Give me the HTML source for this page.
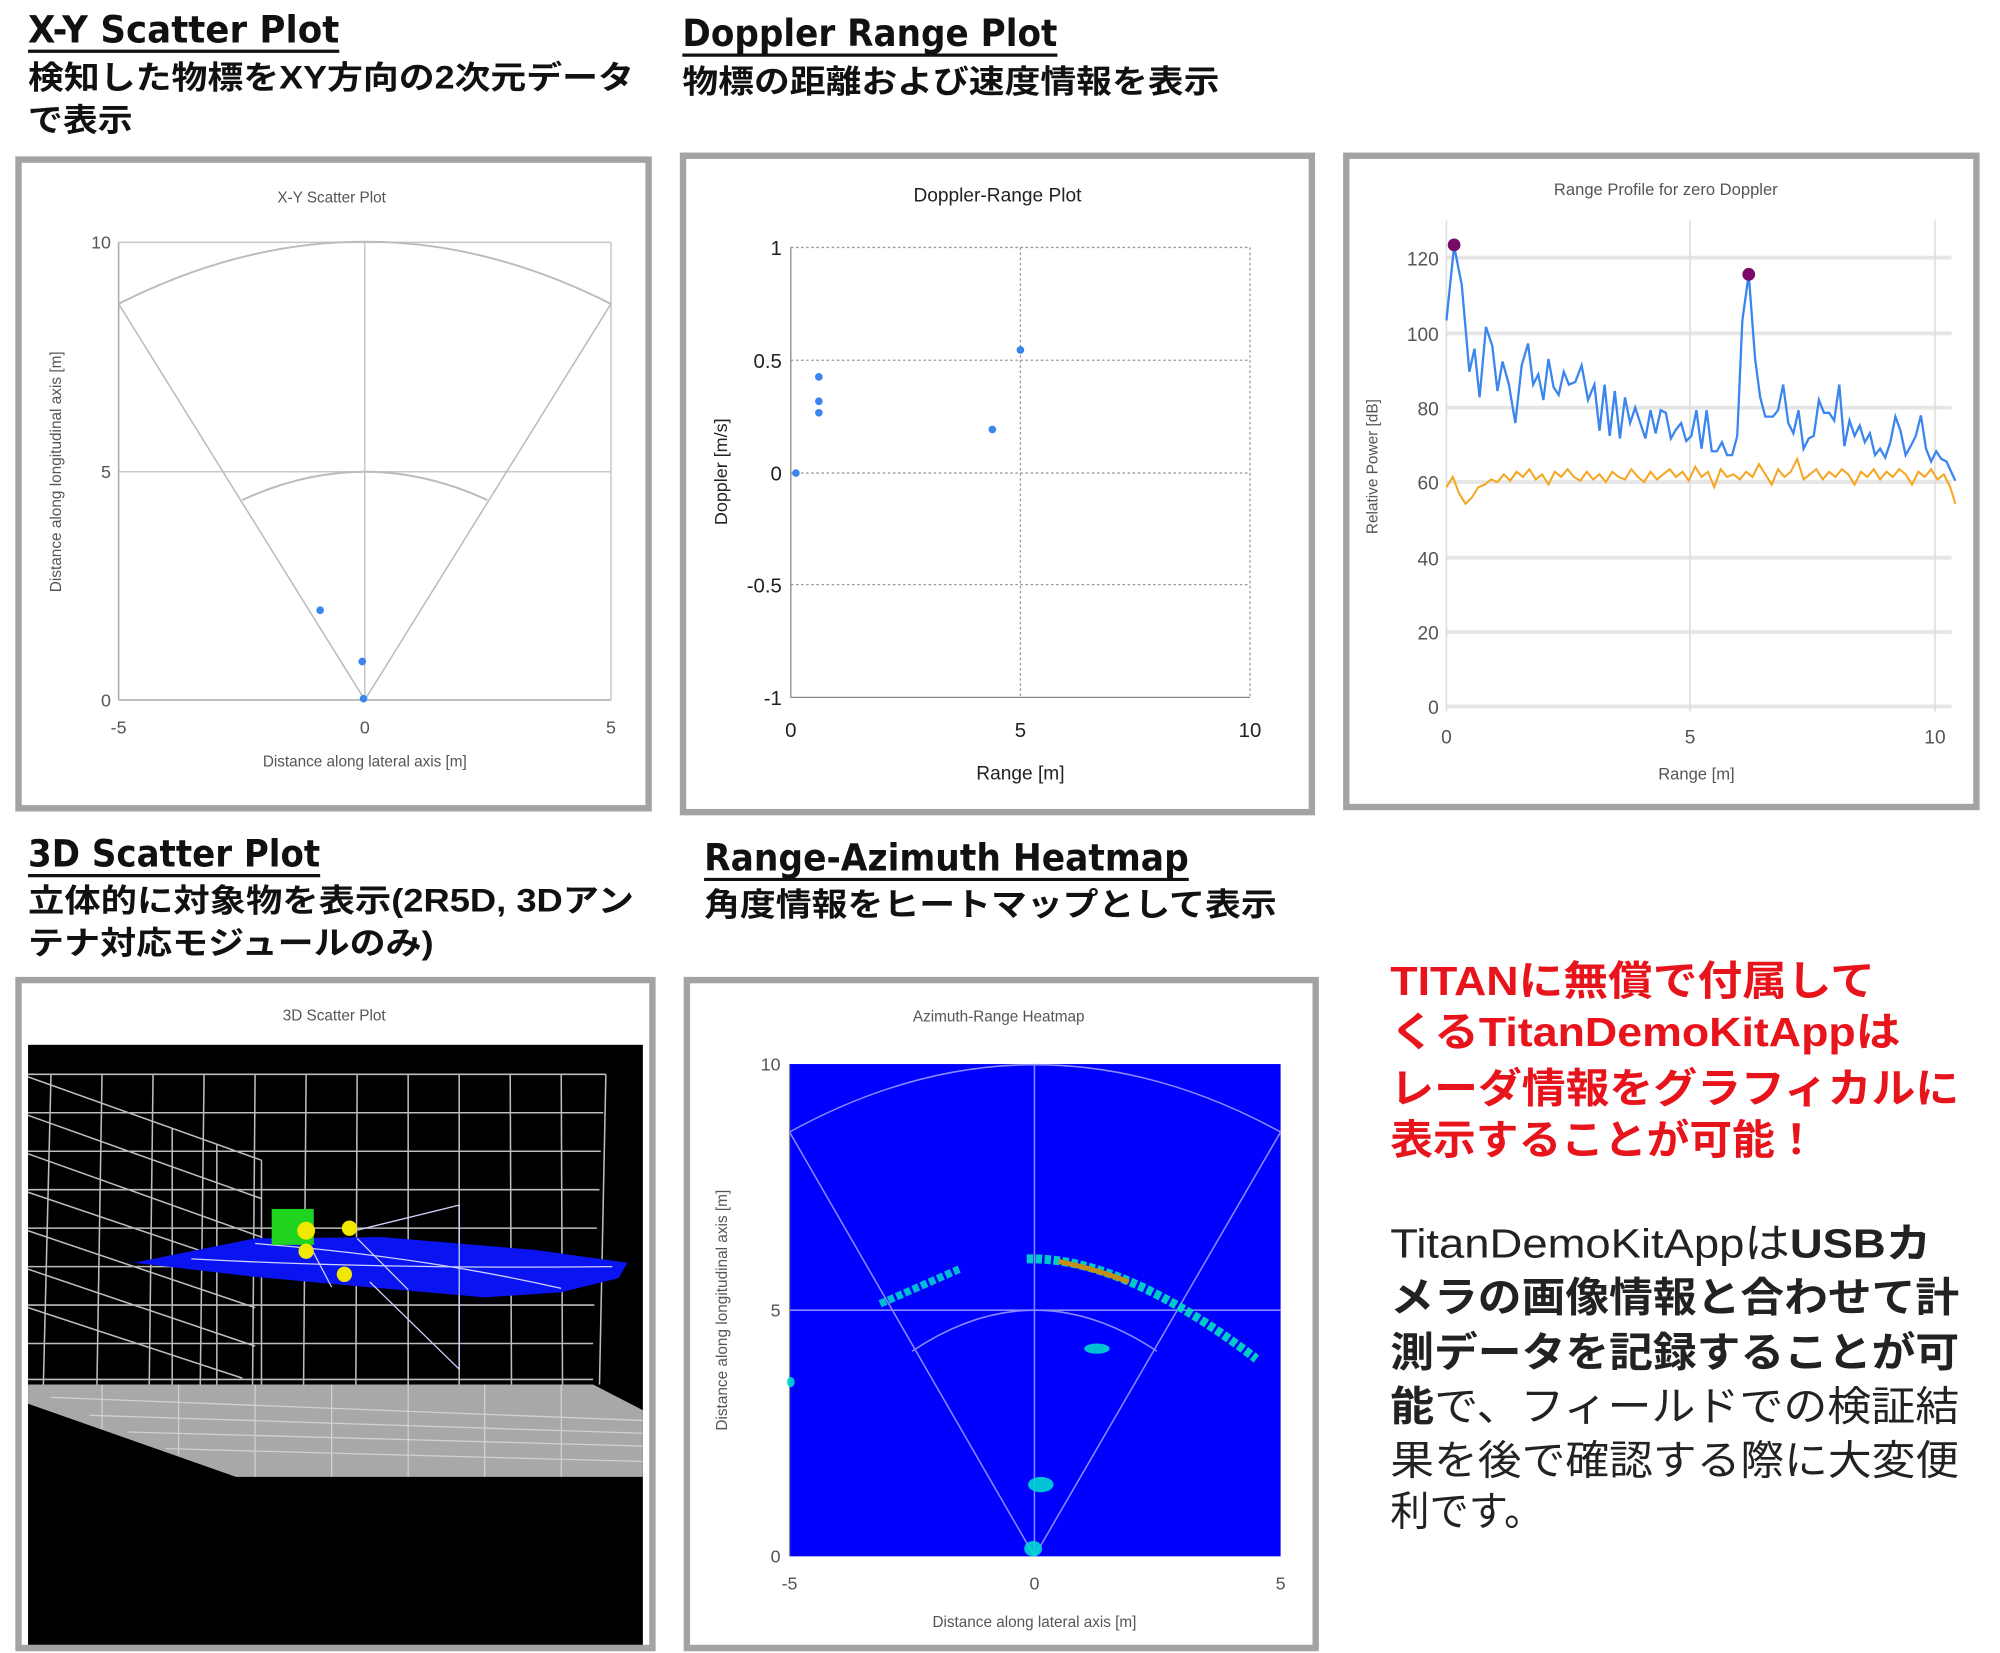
<!DOCTYPE html>
<html><head><meta charset="utf-8">
<style>
html,body{margin:0;padding:0;background:#fff;}
svg{display:block;}
.t{font-family:"Liberation Sans","Noto Sans CJK JP",sans-serif;}
</style></head>
<body>
<svg width="2000" height="1653" viewBox="0 0 1568 1289.4" preserveAspectRatio="none" xmlns="http://www.w3.org/2000/svg" class="t">
<g font-weight="bold" fill="#111">
<text x="22" y="33" font-size="29" font-family="DejaVu Sans, sans-serif" textLength="244" lengthAdjust="spacingAndGlyphs">X-Y Scatter Plot</text>
<line x1="22" y1="40" x2="266" y2="40" stroke="#111" stroke-width="2.5"/>
<text x="22" y="69" font-size="25" textLength="475" lengthAdjust="spacingAndGlyphs">検知した物標をXY方向の2次元データ</text>
<text x="22" y="102" font-size="25" textLength="82" lengthAdjust="spacingAndGlyphs">で表示</text>
<text x="535" y="36" font-size="29" font-family="DejaVu Sans, sans-serif" textLength="294" lengthAdjust="spacingAndGlyphs">Doppler Range Plot</text>
<line x1="535" y1="43" x2="829" y2="43" stroke="#111" stroke-width="2.5"/>
<text x="535" y="72" font-size="25" textLength="421" lengthAdjust="spacingAndGlyphs">物標の距離および速度情報を表示</text>
<text x="22" y="676" font-size="29" font-family="DejaVu Sans, sans-serif" textLength="229" lengthAdjust="spacingAndGlyphs">3D Scatter Plot</text>
<line x1="22" y1="683" x2="251" y2="683" stroke="#111" stroke-width="2.5"/>
<text x="22" y="711" font-size="25" textLength="475" lengthAdjust="spacingAndGlyphs">立体的に対象物を表示(2R5D, 3Dアン</text>
<text x="22" y="744" font-size="25" textLength="318" lengthAdjust="spacingAndGlyphs">テナ対応モジュールのみ)</text>
<text x="552" y="679" font-size="29" font-family="DejaVu Sans, sans-serif" textLength="380" lengthAdjust="spacingAndGlyphs">Range-Azimuth Heatmap</text>
<line x1="552" y1="686" x2="932" y2="686" stroke="#111" stroke-width="2.5"/>
<text x="552" y="714" font-size="25" textLength="449" lengthAdjust="spacingAndGlyphs">角度情報をヒートマップとして表示</text>
</g>
<g font-weight="bold" fill="#e8141c" font-size="32">
<text x="1090" y="776" textLength="380" lengthAdjust="spacingAndGlyphs">TITANに無償で付属して</text>
<text x="1090" y="816" textLength="400" lengthAdjust="spacingAndGlyphs">くるTitanDemoKitAppは</text>
<text x="1090" y="860" textLength="446" lengthAdjust="spacingAndGlyphs">レーダ情報をグラフィカルに</text>
<text x="1090" y="900" textLength="335" lengthAdjust="spacingAndGlyphs">表示することが可能！</text>
</g>
<g fill="#222" font-size="32">
<text x="1090" y="981" textLength="424" lengthAdjust="spacingAndGlyphs">TitanDemoKitAppは<tspan font-weight="bold">USBカ</tspan></text>
<text x="1090" y="1023" font-weight="bold" textLength="446" lengthAdjust="spacingAndGlyphs">メラの画像情報と合わせて計</text>
<text x="1090" y="1066" font-weight="bold" textLength="446" lengthAdjust="spacingAndGlyphs">測データを記録することが可</text>
<text x="1090" y="1108" textLength="446" lengthAdjust="spacingAndGlyphs"><tspan font-weight="bold">能</tspan>で、フィールドでの検証結</text>
<text x="1090" y="1150" textLength="446" lengthAdjust="spacingAndGlyphs">果を後で確認する際に大変便</text>
<text x="1090" y="1190" textLength="120" lengthAdjust="spacingAndGlyphs">利です。</text>
</g>

<g fill="#fff" stroke="#a3a3a3" stroke-width="5">
<rect x="14.5" y="124.5" width="494" height="506"/>
<rect x="535.5" y="121.5" width="493" height="512"/>
<rect x="1055.5" y="121.5" width="494" height="508"/>
<rect x="14.5" y="764.5" width="497" height="521"/>
<rect x="538.5" y="764.5" width="493" height="521"/>
</g>

<g fill="none" stroke="#c8c8c8" stroke-width="1.2">
<line x1="93" y1="189" x2="479" y2="189"/>
<line x1="93" y1="368" x2="479" y2="368"/>
<line x1="93" y1="546" x2="479" y2="546" stroke="#aaa"/>
<line x1="93" y1="189" x2="93" y2="546" stroke="#aaa"/>
<line x1="286" y1="189" x2="286" y2="546"/>
<line x1="479" y1="189" x2="479" y2="546"/>
<path d="M93,237 Q286,140 479,237" stroke="#bbb" stroke-width="1.5"/>
<path d="M190,390 Q286,346 382,390" stroke="#bbb" stroke-width="1.5"/>
<line x1="286" y1="546" x2="93" y2="237" stroke="#bbb"/>
<line x1="286" y1="546" x2="479" y2="237" stroke="#bbb"/>
</g>
<g fill="#555" font-size="12">
<text x="260" y="158" text-anchor="middle" font-size="12">X-Y Scatter Plot</text>
<text x="87" y="194" text-anchor="end" font-size="14">10</text>
<text x="87" y="373" text-anchor="end" font-size="14">5</text>
<text x="87" y="551" text-anchor="end" font-size="14">0</text>
<text x="93" y="572" text-anchor="middle" font-size="14">-5</text>
<text x="286" y="572" text-anchor="middle" font-size="14">0</text>
<text x="479" y="572" text-anchor="middle" font-size="14">5</text>
<text x="286" y="598" text-anchor="middle">Distance along lateral axis [m]</text>
<text transform="translate(48,368) rotate(-90)" text-anchor="middle">Distance along longitudinal axis [m]</text>
</g>
<g fill="#3a86ee">
<circle cx="251" cy="476" r="3"/><circle cx="284" cy="516" r="3"/><circle cx="285" cy="545" r="3"/>
</g>

<g stroke="#999" stroke-width="1" stroke-dasharray="2,2" fill="none">
<line x1="620" y1="193" x2="980" y2="193"/>
<line x1="620" y1="281" x2="980" y2="281"/>
<line x1="620" y1="369" x2="980" y2="369"/>
<line x1="620" y1="456" x2="980" y2="456"/>
<line x1="800" y1="193" x2="800" y2="544"/>
<line x1="980" y1="193" x2="980" y2="544"/>
</g>
<line x1="620" y1="193" x2="620" y2="544" stroke="#888"/>
<line x1="620" y1="544" x2="980" y2="544" stroke="#888"/>
<g fill="#222" font-size="16">
<text x="782" y="157" text-anchor="middle" font-size="15">Doppler-Range Plot</text>
<text x="613" y="199" text-anchor="end">1</text>
<text x="613" y="287" text-anchor="end">0.5</text>
<text x="613" y="375" text-anchor="end">0</text>
<text x="613" y="462" text-anchor="end">-0.5</text>
<text x="613" y="550" text-anchor="end">-1</text>
<text x="620" y="575" text-anchor="middle">0</text>
<text x="800" y="575" text-anchor="middle">5</text>
<text x="980" y="575" text-anchor="middle">10</text>
<text x="800" y="608" text-anchor="middle" font-size="15">Range [m]</text>
<text transform="translate(570,368) rotate(-90)" text-anchor="middle" font-size="14">Doppler [m/s]</text>
</g>
<g fill="#3a86ee">
<circle cx="624" cy="369" r="3"/><circle cx="642" cy="294" r="3"/><circle cx="642" cy="313" r="3"/><circle cx="642" cy="322" r="3"/><circle cx="778" cy="335" r="3"/><circle cx="800" cy="273" r="3"/>
</g>

<g stroke="#e6e6e6" stroke-width="3">
<line x1="1134" y1="201" x2="1530" y2="201"/>
<line x1="1134" y1="260" x2="1530" y2="260"/>
<line x1="1134" y1="318" x2="1530" y2="318"/>
<line x1="1134" y1="376" x2="1530" y2="376"/>
<line x1="1134" y1="435" x2="1530" y2="435"/>
<line x1="1134" y1="493" x2="1530" y2="493"/>
<line x1="1134" y1="551" x2="1530" y2="551"/>
</g>
<g stroke="#ddd" stroke-width="1.2">
<line x1="1134" y1="172" x2="1134" y2="555"/>
<line x1="1325" y1="172" x2="1325" y2="555"/>
<line x1="1517" y1="172" x2="1517" y2="555"/>
</g>
<g fill="#555" font-size="15">
<text x="1306" y="152" text-anchor="middle" font-size="13">Range Profile for zero Doppler</text>
<text x="1128" y="207" text-anchor="end">120</text>
<text x="1128" y="266" text-anchor="end">100</text>
<text x="1128" y="324" text-anchor="end">80</text>
<text x="1128" y="382" text-anchor="end">60</text>
<text x="1128" y="441" text-anchor="end">40</text>
<text x="1128" y="499" text-anchor="end">20</text>
<text x="1128" y="557" text-anchor="end">0</text>
<text x="1134" y="580" text-anchor="middle">0</text>
<text x="1325" y="580" text-anchor="middle">5</text>
<text x="1517" y="580" text-anchor="middle">10</text>
<text x="1330" y="608" text-anchor="middle" font-size="13">Range [m]</text>
<text transform="translate(1080,364) rotate(-90)" text-anchor="middle" font-size="12">Relative Power [dB]</text>
</g>
<polyline fill="none" stroke="#f5a623" stroke-width="1.6" points="1134,380 1139,372 1144,385 1149,393 1154,388 1159,380 1164,378 1169,374 1174,376 1179,370 1184,375 1189,368 1194,372 1199,366 1204,374 1209,370 1214,378 1219,368 1224,372 1229,366 1234,372 1239,375 1244,368 1249,374 1254,370 1259,376 1264,368 1269,372 1274,374 1279,366 1284,372 1289,376 1294,368 1299,374 1304,370 1309,366 1314,372 1319,368 1324,375 1329,364 1334,372 1339,368 1344,380 1349,366 1354,372 1359,370 1364,374 1369,368 1374,372 1379,362 1384,370 1389,378 1394,366 1399,372 1404,368 1409,358 1414,374 1419,370 1424,366 1429,374 1434,368 1439,372 1444,366 1449,370 1454,378 1459,368 1464,372 1469,366 1474,374 1479,368 1484,372 1489,366 1494,370 1499,378 1504,368 1509,372 1514,366 1519,374 1524,370 1529,380 1533,393"/>
<polyline fill="none" stroke="#3a86ee" stroke-width="1.8" points="1134,250 1140,192 1146,222 1152,290 1156,272 1160,310 1165,255 1170,270 1174,305 1178,282 1183,300 1188,330 1193,285 1198,268 1202,300 1206,292 1210,312 1214,280 1218,302 1222,308 1226,290 1230,300 1235,298 1240,285 1245,312 1250,300 1254,336 1258,300 1262,340 1266,305 1270,342 1274,310 1278,330 1282,318 1286,330 1290,342 1294,320 1298,338 1302,320 1306,322 1310,342 1314,335 1318,330 1322,344 1326,340 1330,320 1334,350 1338,320 1342,352 1346,352 1350,345 1354,355 1358,355 1362,340 1366,250 1371,214 1376,280 1380,310 1384,325 1390,325 1394,320 1398,300 1402,330 1406,338 1410,320 1414,350 1418,342 1422,340 1426,312 1430,322 1434,322 1438,328 1442,300 1446,348 1450,328 1454,340 1458,332 1462,345 1466,338 1470,355 1474,350 1478,357 1482,345 1486,325 1490,336 1494,355 1498,348 1502,340 1506,324 1510,350 1514,360 1518,352 1522,358 1526,360 1533,375"/>
<g fill="#7a0a6a"><circle cx="1140" cy="191" r="5"/><circle cx="1371" cy="214" r="5"/></g>

<text x="262" y="796" text-anchor="middle" font-size="12" fill="#555">3D Scatter Plot</text>
<rect x="22" y="815" width="482" height="468" fill="#000"/>
<g stroke="#bdbdbd" stroke-width="1.2" fill="none">
<line x1="22" y1="838" x2="475" y2="838"/><line x1="22" y1="868" x2="473" y2="868"/><line x1="22" y1="898" x2="471" y2="898"/><line x1="22" y1="928" x2="470" y2="928"/><line x1="22" y1="958" x2="468" y2="958"/><line x1="22" y1="988" x2="467" y2="988"/><line x1="22" y1="1018" x2="466" y2="1018"/><line x1="22" y1="1048" x2="465" y2="1048"/><line x1="22" y1="1076" x2="465" y2="1076"/>
<line x1="40" y1="838" x2="34" y2="1080"/><line x1="80" y1="838" x2="76" y2="1080"/><line x1="120" y1="838" x2="117" y2="1080"/><line x1="160" y1="838" x2="157" y2="1080"/><line x1="200" y1="838" x2="198" y2="1080"/><line x1="240" y1="838" x2="238" y2="1080"/><line x1="280" y1="838" x2="279" y2="1080"/><line x1="320" y1="838" x2="320" y2="1080"/><line x1="360" y1="838" x2="360" y2="1080"/><line x1="400" y1="838" x2="401" y2="1080"/><line x1="440" y1="838" x2="441" y2="1080"/><line x1="475" y1="838" x2="470" y2="1080"/>
<line x1="22" y1="840" x2="205" y2="905"/><line x1="22" y1="870" x2="205" y2="935"/><line x1="22" y1="900" x2="205" y2="965"/><line x1="22" y1="930" x2="200" y2="990"/><line x1="22" y1="960" x2="200" y2="1020"/><line x1="22" y1="990" x2="200" y2="1050"/><line x1="22" y1="1020" x2="190" y2="1075"/>
<line x1="205" y1="905" x2="205" y2="1080"/><line x1="170" y1="893" x2="170" y2="1080"/><line x1="135" y1="880" x2="135" y2="1080"/>
</g>
<polygon points="22,1080 465,1080 504,1100 504,1152 185,1152 22,1095" fill="#a8a8a8"/>
<g stroke="#d0d0d0" stroke-width="1">
<line x1="40" y1="1090" x2="504" y2="1108"/><line x1="70" y1="1104" x2="504" y2="1118"/><line x1="100" y1="1117" x2="504" y2="1128"/><line x1="130" y1="1130" x2="504" y2="1140"/>
<line x1="80" y1="1080" x2="80" y2="1115"/><line x1="140" y1="1080" x2="140" y2="1135"/><line x1="200" y1="1080" x2="200" y2="1152"/><line x1="260" y1="1080" x2="260" y2="1152"/><line x1="320" y1="1080" x2="320" y2="1152"/><line x1="380" y1="1080" x2="380" y2="1152"/><line x1="440" y1="1080" x2="440" y2="1152"/>
</g>
<polygon points="105,985 200,966 300,965 420,975 492,985 485,997 440,1008 380,1012 300,1005 200,996" fill="#0a14f0"/>
<g stroke="#cfd3ff" stroke-width="1" fill="none">
<path d="M150,982 Q300,990 480,988"/><path d="M200,970 Q330,980 440,1005"/><line x1="240" y1="966" x2="260" y2="1004"/><line x1="280" y1="966" x2="320" y2="1006"/>
<line x1="270" y1="962" x2="360" y2="940"/><line x1="360" y1="940" x2="360" y2="1068"/><line x1="360" y1="1068" x2="290" y2="1000"/>
</g>
<rect x="213" y="943" width="33" height="28" fill="#1fd31f"/>
<g fill="#f1e800"><circle cx="240" cy="960" r="7"/><circle cx="274" cy="958" r="6"/><circle cx="240" cy="976" r="6"/><circle cx="270" cy="994" r="6"/></g>

<text x="783" y="797" text-anchor="middle" font-size="12" fill="#555">Azimuth-Range Heatmap</text>
<rect x="619" y="830" width="385" height="384" fill="#0000ff"/>
<g stroke="#8a8aff" stroke-width="1.2" fill="none">
<line x1="619" y1="1022" x2="1004" y2="1022"/><line x1="811" y1="830" x2="811" y2="1214"/>
<path d="M619,883 Q811,778 1004,883"/><path d="M715,1054 Q811,990 907,1054"/>
<line x1="811" y1="1214" x2="619" y2="883"/><line x1="811" y1="1214" x2="1004" y2="883"/>
</g>
<line x1="619" y1="830" x2="619" y2="1214" stroke="#888"/>
<g fill="#00d8d0" opacity="0.9">
<path d="M805,982 Q880,980 985,1060" stroke="#00e0c0" stroke-width="7" stroke-dasharray="5,2" fill="none"/>
<path d="M830,984 Q860,990 885,1000" stroke="#d8a000" stroke-width="4" fill="none"/>
<path d="M690,1017 L752,990" stroke="#00d0d0" stroke-width="6" stroke-dasharray="5,2" fill="none"/>
<ellipse cx="860" cy="1052" rx="10" ry="4"/>
<ellipse cx="816" cy="1158" rx="10" ry="6"/>
<ellipse cx="810" cy="1208" rx="7" ry="6"/>
<ellipse cx="620" cy="1078" rx="3" ry="4"/>
</g>
<g fill="#555" font-size="14">
<text x="612" y="835" text-anchor="end">10</text>
<text x="612" y="1027" text-anchor="end">5</text>
<text x="612" y="1219" text-anchor="end">0</text>
<text x="619" y="1240" text-anchor="middle">-5</text>
<text x="811" y="1240" text-anchor="middle">0</text>
<text x="1004" y="1240" text-anchor="middle">5</text>
<text x="811" y="1269" text-anchor="middle" font-size="12">Distance along lateral axis [m]</text>
<text transform="translate(570,1022) rotate(-90)" text-anchor="middle" font-size="12">Distance along longitudinal axis [m]</text>
</g>
</svg>
</body></html>
